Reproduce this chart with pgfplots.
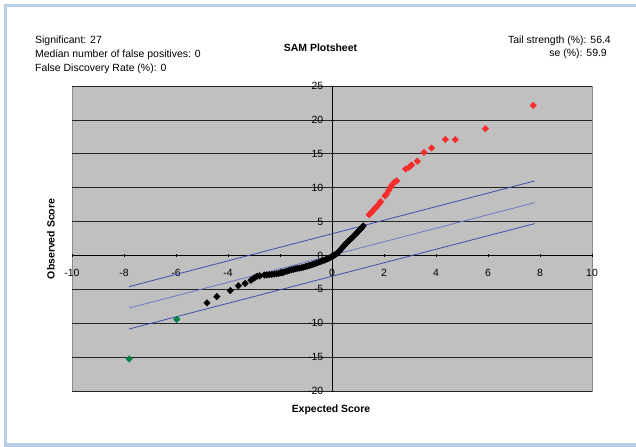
\documentclass[border=0pt]{standalone}
\usepackage{fontspec}
\setmainfont{Liberation Sans}
\usepackage{pgfplots}
\pgfplotsset{compat=1.18}

\definecolor{plotbg}{RGB}{192,192,192}
\definecolor{samred}{RGB}{245,45,45}
\definecolor{samgreen}{RGB}{0,130,70}
\definecolor{cutline}{RGB}{60,78,172}
\definecolor{framecol}{RGB}{185,205,229}

\newcommand{\txt}{\fontsize{10.5}{12.5}\selectfont}

\begin{document}
\begin{tikzpicture}
	\useasboundingbox (0,0) rectangle (636bp,447bp);
	% outer frame of the sheet
	\fill[framecol] (4bp,440bp) rectangle (636bp,443bp);
	\fill[framecol] (4bp,0bp) rectangle (7bp,443bp);
	\fill[framecol] (4bp,0bp) rectangle (636bp,4bp);

	\begin{axis}[
		at={(72bp,56bp)}, anchor=south west,
		scale only axis,
		width=520bp, height=305bp,
		xmin=-10, xmax=10,
		ymin=-20, ymax=25,
		axis lines=middle,
		axis line style={-, black, line width=0.7bp},
		axis background/.style={fill=plotbg, draw=black!45, line width=0.7bp},
		xtick={-10,-8,...,10},
		ytick={-20,-15,...,25},
		hide obscured x ticks=false,
		hide obscured y ticks=false,
		ymajorgrids,
		major grid style={black!85, line width=0.7bp},
		major tick length=3bp,
		tick style={black, line width=0.6bp},
		ticklabel style={font=\txt, /pgf/number format/assume math mode=true},
		xticklabel style={inner sep=0pt, anchor=north, yshift=-12bp},
		yticklabel style={inner sep=0pt, anchor=east, xshift=-7bp},
		clip=false,
	]
		% cut-off lines (delta band)
		\addplot[cutline, line width=0.8bp, no marks] coordinates {(-7.8,-4.6) (7.8,11.0)};
		\addplot[cutline!75!white, line width=0.8bp, no marks] coordinates {(-7.8,-7.75) (7.8,7.8)};
		\addplot[cutline, line width=0.8bp, no marks] coordinates {(-7.8,-10.85) (7.8,4.7)};

		% non significant genes
		\addplot[only marks, mark=square*, mark size=2.3bp, mark options={rotate=45, black}] coordinates {
			(-4.81,-7.00) (-4.43,-6.07) (-3.91,-5.19) (-3.60,-4.47) (-3.34,-4.13)
			(-3.12,-3.66) (-3.04,-3.45) (-2.97,-3.28) (-2.88,-3.06) (-2.78,-3.00)
			(-2.60,-2.90) (-2.52,-2.86) (-2.42,-2.84) (-2.32,-2.80) (-2.22,-2.76)
			(-2.13,-2.70) (-2.05,-2.64) (-1.97,-2.57) (-1.88,-2.49) (-1.80,-2.40)
			(-1.72,-2.30) (-1.64,-2.20) (-1.56,-2.12) (-1.48,-2.05) (-1.42,-1.98)
			(-1.34,-1.93) (-1.26,-1.88) (-1.18,-1.82) (-1.10,-1.74) (-1.02,-1.66)
			(-0.95,-1.58) (-0.88,-1.50) (-0.80,-1.41) (-0.73,-1.32) (-0.66,-1.22)
			(-0.59,-1.12) (-0.52,-1.02) (-0.45,-0.92) (-0.38,-0.82) (-0.31,-0.72)
			(-0.24,-0.61) (-0.17,-0.50) (-0.11,-0.38) (-0.05,-0.26) (0.00,-0.15)
			(0.05,-0.05) (0.10,0.05) (0.15,0.18) (0.20,0.33) (0.25,0.50)
			(0.30,0.72) (0.35,0.95) (0.40,1.17) (0.45,1.38) (0.50,1.58)
			(0.55,1.78) (0.60,1.97) (0.65,2.16) (0.70,2.35) (0.75,2.53)
			(0.80,2.72) (0.85,2.90) (0.90,3.10) (0.95,3.30) (1.00,3.50)
			(1.05,3.70) (1.10,3.92) (1.15,4.13) (1.20,4.35)
		};

		% significant, positive
		\addplot[only marks, mark=square*, mark size=2.3bp, mark options={rotate=45, samred}] coordinates {
			(1.43,6.00) (1.48,6.20) (1.53,6.40) (1.62,6.80) (1.67,7.00)
			(1.72,7.20) (1.81,7.60) (1.87,7.94) (2.04,8.78) (2.10,9.07)
			(2.18,9.60) (2.26,10.10) (2.32,10.45) (2.40,10.80) (2.49,11.00)
			(2.83,12.75) (2.96,13.00) (3.06,13.35) (3.28,13.90) (3.54,15.20)
			(3.83,15.85) (4.36,17.10) (4.74,17.10) (5.90,18.70) (7.74,22.15)
		};

		% significant, negative
		\addplot[only marks, mark=square*, mark size=2.3bp, mark options={rotate=45, samgreen}] coordinates {
			(-7.80,-15.27) (-5.97,-9.42)
		};
	\end{axis}

	% header texts
	\node[anchor=west, inner sep=0pt, font=\txt] at (35bp,406bp) {Significant: 27};
	\node[anchor=west, inner sep=0pt, font=\txt] at (35bp,392.5bp) {Median number of false positives: 0};
	\node[anchor=west, inner sep=0pt, font=\txt] at (35bp,378bp) {False Discovery Rate (\%): 0};
	\node[inner sep=0pt, font=\txt\bfseries] at (320.5bp,399.5bp) {SAM Plotsheet};
	\node[anchor=east, inner sep=0pt, font=\txt] at (611bp,406bp) {Tail strength (\%): 56.4};
	\node[anchor=east, inner sep=0pt, font=\txt] at (607bp,393bp) {se (\%): 59.9};

	% axis titles
	\node[rotate=90, inner sep=0pt, font=\txt\bfseries] at (51bp,208bp) {Observed Score};
	\node[inner sep=0pt, font=\txt\bfseries] at (331bp,37bp) {Expected Score};
\end{tikzpicture}
\end{document}
